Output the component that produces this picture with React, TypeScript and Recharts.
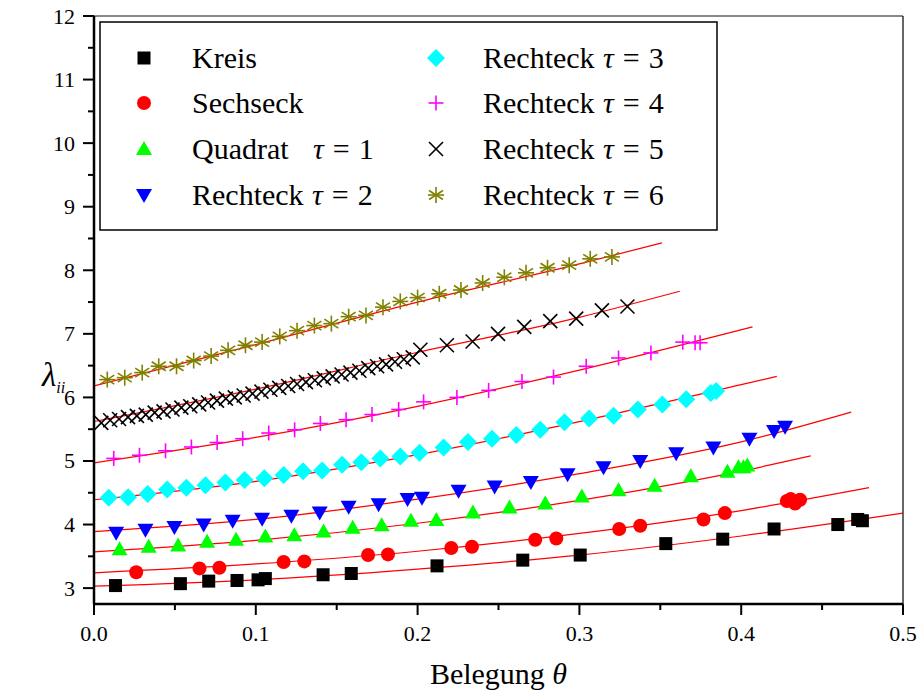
import React from 'react';
import { ComposedChart, Scatter, Line, XAxis, YAxis, ReferenceLine } from 'recharts';

const FONT = '"Liberation Serif", "Times New Roman", Times, serif';

// tick positions (major + minor)
const xTicks = [0, 0.05, 0.1, 0.15, 0.2, 0.25, 0.3, 0.35, 0.4, 0.45, 0.5];
const yTicks = [3, 3.5, 4, 4.5, 5, 5.5, 6, 6.5, 7, 7.5, 8, 8.5, 9, 9.5, 10, 10.5, 11, 11.5, 12];

// measured points [Belegung, lambda]
const kreis = [
  [0.0133, 3.04], [0.0534, 3.07], [0.0709, 3.11], [0.0884, 3.12], [0.1014, 3.13], [0.1059, 3.15],
  [0.1416, 3.21], [0.159, 3.23], [0.212, 3.35], [0.265, 3.44], [0.3005, 3.52], [0.3534, 3.70],
  [0.3886, 3.77], [0.4203, 3.93], [0.4597, 4.0], [0.472, 4.08], [0.4749, 4.06],
];
const sechseck = [
  [0.0261, 3.25], [0.0652, 3.31], [0.0775, 3.32], [0.1172, 3.41], [0.13, 3.42], [0.1694, 3.52],
  [0.1817, 3.53], [0.2208, 3.63], [0.2336, 3.65], [0.2727, 3.76], [0.2857, 3.78], [0.3246, 3.93],
  [0.3376, 3.98], [0.3767, 4.08], [0.3899, 4.18], [0.4282, 4.37], [0.4306, 4.4], [0.4333, 4.33],
  [0.4364, 4.39],
];
const quadrat = [
  [0.0158, 3.61], [0.0338, 3.65], [0.052, 3.67], [0.0699, 3.73], [0.0878, 3.76], [0.1059, 3.81],
  [0.1238, 3.83], [0.1419, 3.89], [0.1599, 3.95], [0.1778, 3.99], [0.1959, 4.06], [0.2116, 4.07],
  [0.2342, 4.19], [0.2568, 4.27], [0.2789, 4.33], [0.3015, 4.44], [0.3242, 4.54], [0.3465, 4.61],
  [0.3689, 4.76], [0.3915, 4.83], [0.3983, 4.9], [0.4014, 4.9], [0.4038, 4.93],
];
const rechteck2 = [
  [0.0137, 3.87], [0.0318, 3.92], [0.0497, 3.96], [0.0678, 4.0], [0.0857, 4.06], [0.1039, 4.09],
  [0.122, 4.14], [0.1395, 4.19], [0.1574, 4.28], [0.1759, 4.32], [0.1938, 4.4], [0.2027, 4.42],
  [0.2253, 4.53], [0.2476, 4.6], [0.27, 4.67], [0.2927, 4.79], [0.3149, 4.9], [0.3376, 5.0],
  [0.3598, 5.12], [0.3828, 5.21], [0.4051, 5.35], [0.4203, 5.47], [0.4271, 5.54],
];
const rechteck3 = [
  [0.0091, 4.42], [0.0211, 4.43], [0.0332, 4.48], [0.0452, 4.55], [0.0571, 4.58], [0.0689, 4.62],
  [0.0812, 4.66], [0.0931, 4.7], [0.1053, 4.73], [0.1172, 4.78], [0.1292, 4.84], [0.141, 4.85],
  [0.1533, 4.94], [0.1652, 4.98], [0.177, 5.04], [0.1893, 5.07], [0.2012, 5.13], [0.2161, 5.21],
  [0.2311, 5.3], [0.246, 5.35], [0.261, 5.41], [0.2758, 5.49], [0.2908, 5.61], [0.306, 5.67],
  [0.3211, 5.71], [0.3361, 5.81], [0.3513, 5.89], [0.366, 5.97], [0.3812, 6.07], [0.3845, 6.1],
];
const rechteck4 = [
  [0.0122, 5.04], [0.0281, 5.09], [0.0442, 5.16], [0.0602, 5.22], [0.0761, 5.29], [0.0919, 5.35],
  [0.108, 5.44], [0.124, 5.49], [0.1399, 5.59], [0.1558, 5.65], [0.1718, 5.73], [0.1883, 5.81],
  [0.2037, 5.93], [0.2243, 6.0], [0.2439, 6.11], [0.2645, 6.25], [0.284, 6.32], [0.3042, 6.49],
  [0.3242, 6.62], [0.3442, 6.7], [0.3639, 6.87], [0.3715, 6.86], [0.3746, 6.86],
];
const rechteck5 = [
  [0.0045, 5.6], [0.01, 5.64], [0.0155, 5.66], [0.021, 5.69], [0.0265, 5.71], [0.032, 5.73],
  [0.0375, 5.76], [0.043, 5.78], [0.0485, 5.81], [0.054, 5.84], [0.0595, 5.86], [0.065, 5.89],
  [0.0705, 5.92], [0.076, 5.95], [0.0815, 5.98], [0.087, 6.0], [0.0925, 6.03], [0.098, 6.06],
  [0.1035, 6.09], [0.109, 6.12], [0.1145, 6.15], [0.12, 6.18], [0.1255, 6.21], [0.131, 6.24],
  [0.1365, 6.27], [0.142, 6.3], [0.1475, 6.33], [0.153, 6.36], [0.1585, 6.39], [0.164, 6.42],
  [0.1695, 6.46], [0.175, 6.49], [0.1805, 6.52], [0.186, 6.56], [0.1915, 6.6], [0.197, 6.63],
  [0.2017, 6.75], [0.2181, 6.82], [0.234, 6.88], [0.2497, 7.0], [0.2659, 7.11], [0.282, 7.2],
  [0.298, 7.24], [0.3139, 7.37], [0.3297, 7.43],
];
const rechteck6 = [
  [0.0082, 6.28], [0.019, 6.31], [0.0298, 6.39], [0.04, 6.49], [0.051, 6.49], [0.0616, 6.58],
  [0.0724, 6.65], [0.0829, 6.74], [0.0936, 6.82], [0.1039, 6.87], [0.1148, 6.96], [0.1255, 7.05],
  [0.1362, 7.13], [0.1467, 7.16], [0.1574, 7.27], [0.1681, 7.29], [0.1786, 7.42], [0.1893, 7.51],
  [0.2, 7.57], [0.2134, 7.63], [0.2268, 7.69], [0.2402, 7.8], [0.2536, 7.89], [0.267, 7.96],
  [0.2803, 8.04], [0.2937, 8.08], [0.3067, 8.18], [0.3201, 8.21],
];

// fitted curves
const fitKreis = [[0, 3.03], [0.1, 3.13], [0.2, 3.3], [0.3, 3.52], [0.4, 3.82], [0.5, 4.18]];
const fitSechseck = [[0, 3.24], [0.1, 3.38], [0.2, 3.58], [0.3, 3.86], [0.4, 4.22], [0.479, 4.58]];
const fitQuadrat = [[0, 3.57], [0.1, 3.75], [0.2, 4.02], [0.3, 4.38], [0.4, 4.84], [0.443, 5.08]];
const fitRechteck2 = [[0, 3.89], [0.1, 4.08], [0.2, 4.4], [0.3, 4.8], [0.4, 5.3], [0.468, 5.77]];
const fitRechteck3 = [[0, 4.39], [0.1, 4.68], [0.2, 5.1], [0.3, 5.62], [0.4, 6.2], [0.422, 6.33]];
const fitRechteck4 = [[0, 4.97], [0.1, 5.37], [0.2, 5.86], [0.3, 6.43], [0.407, 7.11]];
const fitRechteck5 = [[0, 5.62], [0.1, 6.13], [0.2, 6.71], [0.3, 7.26], [0.362, 7.67]];
const fitRechteck6 = [[0, 6.18], [0.1, 6.83], [0.2, 7.5], [0.3, 8.1], [0.351, 8.43]];

const toXY = (arr: number[][]) => arr.map(([x, y]) => ({ x, y }));

type MarkerKind = 'square' | 'circle' | 'up' | 'down' | 'diamond' | 'plus' | 'cross' | 'star';

function Marker({ kind, cx, cy }: { kind: MarkerKind; cx: number; cy: number }) {
  switch (kind) {
    case 'square':
      return <rect x={cx - 6.5} y={cy - 6.5} width={13} height={13} fill="#000" />;
    case 'circle':
      return <circle cx={cx} cy={cy} r={7} fill="#ff0000" />;
    case 'up':
      return <polygon points={`${cx},${cy - 8} ${cx + 8},${cy + 6} ${cx - 8},${cy + 6}`} fill="#00ff00" />;
    case 'down':
      return <polygon points={`${cx},${cy + 8} ${cx + 8},${cy - 6} ${cx - 8},${cy - 6}`} fill="#0000ff" />;
    case 'diamond':
      return <polygon points={`${cx},${cy - 9} ${cx + 9},${cy} ${cx},${cy + 9} ${cx - 9},${cy}`} fill="#00ffff" />;
    case 'plus':
      return (
        <g stroke="#ff00ff" strokeWidth={1.6}>
          <line x1={cx - 7.5} x2={cx + 7.5} y1={cy} y2={cy} />
          <line x1={cx} x2={cx} y1={cy - 7.5} y2={cy + 7.5} />
        </g>
      );
    case 'cross':
      return (
        <g stroke="#000" strokeWidth={1.6}>
          <line x1={cx - 7} x2={cx + 7} y1={cy - 7} y2={cy + 7} />
          <line x1={cx - 7} x2={cx + 7} y1={cy + 7} y2={cy - 7} />
        </g>
      );
    case 'star':
      return (
        <g stroke="#808000" strokeWidth={1.6}>
          <line x1={cx} x2={cx} y1={cy - 8} y2={cy + 8} />
          <line x1={cx - 7} x2={cx + 7} y1={cy - 4.5} y2={cy + 4.5} />
          <line x1={cx - 7} x2={cx + 7} y1={cy + 4.5} y2={cy - 4.5} />
          <line x1={cx - 8} x2={cx + 8} y1={cy} y2={cy} />
        </g>
      );
  }
  return null;
}

const series: { name: string; kind: MarkerKind; data: number[][] }[] = [
  { name: 'Kreis', kind: 'square', data: kreis },
  { name: 'Sechseck', kind: 'circle', data: sechseck },
  { name: 'Quadrat', kind: 'up', data: quadrat },
  { name: 'Rechteck2', kind: 'down', data: rechteck2 },
  { name: 'Rechteck3', kind: 'diamond', data: rechteck3 },
  { name: 'Rechteck4', kind: 'plus', data: rechteck4 },
  { name: 'Rechteck5', kind: 'cross', data: rechteck5 },
  { name: 'Rechteck6', kind: 'star', data: rechteck6 },
];

const fits = [fitKreis, fitSechseck, fitQuadrat, fitRechteck2, fitRechteck3, fitRechteck4, fitRechteck5, fitRechteck6];

const isMajor = (v: number, step: number) => Math.abs(v / step - Math.round(v / step)) < 1e-6;

function XTick({ x, y, payload }: any) {
  const v = payload.value;
  const major = isMajor(v, 0.1);
  return (
    <g>
      <line x1={x} x2={x} y1={y} y2={y + (major ? 11 : 6)} stroke="#000" strokeWidth={2} />
      {major && (
        <text x={x} y={y + 37} textAnchor="middle" fontSize={22} fontFamily={FONT} fill="#000">
          {v.toFixed(1)}
        </text>
      )}
    </g>
  );
}

function YTick({ x, y, payload }: any) {
  const v = payload.value;
  const major = isMajor(v, 1);
  return (
    <g>
      <line x1={x} x2={x - (major ? 11 : 6)} y1={y} y2={y} stroke="#000" strokeWidth={2} />
      {major && (
        <text x={x - 19} y={y + 7.5} textAnchor="end" fontSize={22} fontFamily={FONT} fill="#000">
          {v}
        </text>
      )}
    </g>
  );
}

const legendRows = [
  { kind: 'square' as MarkerKind, label: 'Kreis', tau: '' },
  { kind: 'circle' as MarkerKind, label: 'Sechseck', tau: '' },
  { kind: 'up' as MarkerKind, label: 'Quadrat', tau: '1' },
  { kind: 'down' as MarkerKind, label: 'Rechteck', tau: '2' },
  { kind: 'diamond' as MarkerKind, label: 'Rechteck', tau: '3' },
  { kind: 'plus' as MarkerKind, label: 'Rechteck', tau: '4' },
  { kind: 'cross' as MarkerKind, label: 'Rechteck', tau: '5' },
  { kind: 'star' as MarkerKind, label: 'Rechteck', tau: '6' },
];

function TauText({ x, y, tau }: { x: number; y: number; tau: string }) {
  return (
    <text x={x} y={y} fontSize={30} fontFamily={FONT} fill="#000">
      <tspan fontStyle="italic">τ</tspan>
      <tspan dx={9}>=</tspan>
      <tspan dx={9}>{tau}</tspan>
    </text>
  );
}

function LegendBox() {
  const rowY = [58, 103, 149, 195];
  return (
    <svg width={917} height={693} style={{ position: 'absolute', left: 0, top: 0, pointerEvents: 'none' }}>
      <rect x={100} y={22} width={617} height={208} fill="#fff" stroke="#000" strokeWidth={1.5} />
      {legendRows.map((r, i) => {
        const col = i < 4 ? 0 : 1;
        const cy = rowY[i % 4];
        const mx = col === 0 ? 144 : 436;
        const tx = col === 0 ? 192 : 483;
        return (
          <g key={i}>
            <Marker kind={r.kind} cx={mx} cy={cy} />
            <text x={tx} y={cy + 10} fontSize={30} fontFamily={FONT} fill="#000">
              {r.label}
            </text>
            {r.tau && <TauText x={tx + (r.label === 'Quadrat' ? 121 : 120)} y={cy + 10} tau={r.tau} />}
          </g>
        );
      })}
    </svg>
  );
}

export default function App() {
  return (
    <div style={{ position: 'absolute', left: 0, top: 0, width: 917, height: 693, background: '#fff' }}>
      <ComposedChart width={917} height={693} margin={{ top: 16, right: 14, bottom: 0, left: 0 }}>
        <XAxis
          dataKey="x"
          type="number"
          domain={[0, 0.5]}
          ticks={xTicks}
          interval={0}
          height={89}
          tickSize={0}
          tickMargin={0}
          tick={<XTick />}
          axisLine={{ stroke: '#000', strokeWidth: 2.5 }}
          allowDataOverflow
          label={({ viewBox }: any) => (
            <text
              x={viewBox.x + viewBox.width / 2}
              y={684}
              textAnchor="middle"
              fontSize={30}
              fontFamily={FONT}
              fill="#000"
            >
              Belegung <tspan fontStyle="italic">θ</tspan>
            </text>
          )}
        />
        <YAxis
          dataKey="y"
          type="number"
          domain={[2.75, 12]}
          ticks={yTicks}
          interval={0}
          width={94}
          tickSize={0}
          tickMargin={0}
          tick={<YTick />}
          axisLine={{ stroke: '#000', strokeWidth: 2.5 }}
          allowDataOverflow
          label={() => (
            <text x={42} y={386} fontFamily={FONT} fill="#000">
              <tspan fontSize={33} fontStyle="italic">λ</tspan>
              <tspan fontSize={16} fontStyle="italic" dy={7}>ii</tspan>
            </text>
          )}
        />
        <ReferenceLine y={12} stroke="#888" strokeWidth={2} />
        <ReferenceLine x={0.5} stroke="#000" strokeWidth={1.2} />
        {series.map((s) => (
          <Scatter
            key={s.name}
            name={s.name}
            data={toXY(s.data)}
            isAnimationActive={false}
            shape={(p: any) => <Marker kind={s.kind} cx={p.cx} cy={p.cy} />}
          />
        ))}
        {fits.map((f, i) => (
          <Line
            key={'fit' + i}
            data={toXY(f)}
            dataKey="y"
            type="monotone"
            stroke="#ff0000"
            strokeWidth={1.2}
            dot={false}
            activeDot={false}
            isAnimationActive={false}
          />
        ))}
      </ComposedChart>
      <LegendBox />
    </div>
  );
}
